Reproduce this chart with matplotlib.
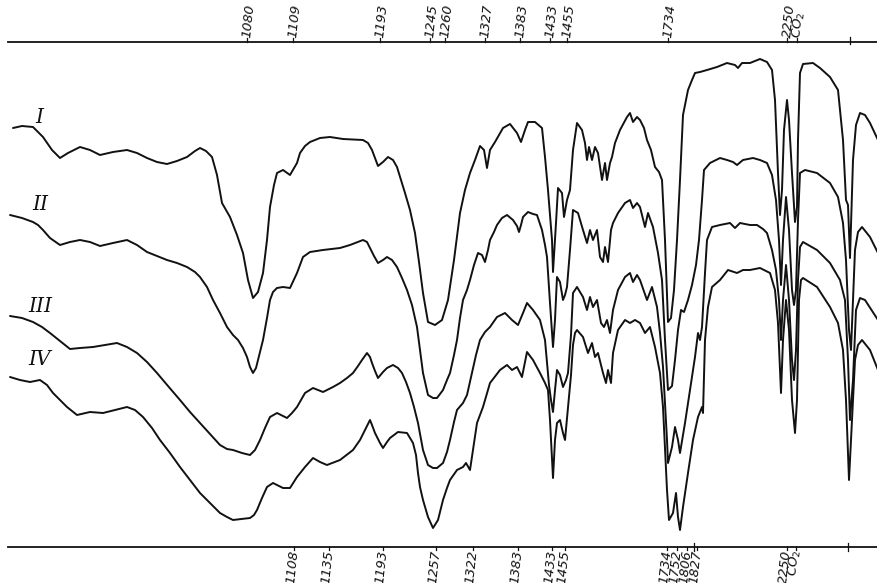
import numpy as np
import matplotlib.pyplot as plt

# chart position (x) and pen deflection measured down from the top rule (y)
trace_I = np.array([
    (13, 128), (22, 126), (33, 127), (43, 137), (52, 150), (60, 158), (68, 153),
    (80, 147), (90, 150), (100, 155), (113, 152), (127, 150), (137, 153),
    (147, 158), (157, 162), (167, 164), (177, 161), (187, 157), (195, 151),
    (200, 148), (206, 151), (212, 157), (217, 175), (222, 203), (230, 217),
    (237, 235), (243, 253), (248, 280), (253, 298), (258, 292), (263, 273),
    (267, 240), (270, 207), (274, 185), (277, 173), (283, 170), (290, 175),
    (297, 163), (300, 153), (305, 146), (310, 142), (320, 138), (330, 137),
    (343, 139), (363, 140), (368, 143), (372, 150), (378, 166), (383, 162),
    (388, 157), (393, 160), (397, 167), (405, 193), (410, 210), (415, 233),
    (419, 262), (423, 293), (428, 322), (435, 325), (442, 320), (448, 300),
    (454, 260), (460, 213), (465, 190), (470, 173), (475, 160), (480, 146),
    (484, 150), (487, 168), (490, 150), (495, 142), (503, 128), (510, 124),
    (517, 133), (521, 142), (525, 130), (528, 122), (535, 122), (542, 128),
    (545, 157), (548, 190), (552, 240), (553, 272), (556, 223), (558, 188),
    (562, 193), (564, 217), (567, 200), (570, 190), (573, 150), (577, 123),
    (582, 130), (585, 143), (587, 160), (589, 147), (592, 160), (595, 147),
    (598, 153), (602, 180), (605, 163), (607, 180), (610, 163), (612, 157),
    (615, 143), (620, 130), (627, 117), (630, 113), (633, 122), (637, 117),
    (640, 120), (644, 128), (647, 140), (651, 150), (655, 167), (659, 172),
    (662, 180), (665, 240), (668, 322), (671, 318), (674, 290), (677, 240),
    (680, 180), (683, 115), (688, 90), (692, 80), (695, 73), (700, 72),
    (707, 70), (717, 67), (727, 63), (735, 65), (738, 68), (742, 63),
    (750, 63), (760, 59), (767, 62), (772, 70), (775, 100), (778, 173),
    (780, 215), (782, 190), (784, 130), (787, 100), (789, 120), (792, 173),
    (795, 222), (797, 207), (798, 140), (800, 73), (803, 64), (813, 63),
    (820, 68), (830, 77), (838, 90), (843, 140), (846, 200), (848, 205),
    (850, 258), (853, 160), (856, 125), (860, 113), (865, 115), (870, 123),
    (878, 140),
])

trace_II = np.array([
    (10, 215), (22, 218), (33, 222), (38, 225), (43, 230), (50, 238), (60, 245),
    (70, 242), (80, 240), (90, 242), (100, 246), (113, 243), (127, 240),
    (137, 245), (147, 252), (157, 256), (167, 260), (177, 263), (187, 267),
    (195, 272), (200, 277), (207, 287), (213, 300), (220, 313), (227, 327),
    (233, 335), (238, 340), (243, 348), (247, 357), (250, 367), (253, 373),
    (256, 368), (260, 352), (263, 340), (267, 318), (270, 300), (273, 292),
    (277, 288), (283, 287), (290, 288), (297, 273), (303, 257), (310, 252),
    (323, 250), (340, 248), (350, 245), (363, 240), (367, 242), (370, 248),
    (374, 256), (378, 263), (383, 260), (387, 257), (392, 260), (397, 267),
    (402, 278), (407, 290), (412, 305), (417, 327), (420, 350), (423, 373),
    (428, 395), (433, 398), (437, 398), (443, 390), (447, 380), (450, 373),
    (454, 355), (457, 340), (460, 318), (463, 300), (467, 290), (470, 280),
    (474, 265), (478, 253), (482, 255), (485, 262), (488, 250), (490, 240),
    (494, 232), (497, 225), (502, 218), (507, 215), (513, 220), (517, 226),
    (519, 232), (521, 225), (523, 217), (528, 212), (533, 214), (537, 215),
    (542, 230), (545, 245), (547, 257), (550, 303), (553, 347), (555, 320),
    (557, 277), (560, 282), (563, 300), (565, 295), (567, 287), (570, 250),
    (573, 210), (578, 213), (583, 230), (587, 243), (590, 230), (593, 240),
    (597, 230), (600, 257), (603, 262), (605, 247), (608, 262), (611, 230),
    (613, 223), (618, 213), (625, 203), (630, 200), (633, 208), (637, 203),
    (640, 207), (645, 227), (648, 213), (653, 227), (658, 253), (662, 280),
    (665, 340), (668, 390), (672, 386), (675, 360), (678, 330), (681, 310),
    (684, 312), (688, 300), (692, 285), (696, 265), (699, 240), (702, 200),
    (704, 170), (710, 163), (720, 158), (727, 160), (733, 162), (737, 165),
    (743, 160), (753, 158), (760, 160), (767, 163), (772, 175), (776, 200),
    (779, 240), (781, 285), (783, 240), (786, 197), (789, 230), (792, 290),
    (794, 305), (796, 290), (798, 220), (800, 173), (805, 170), (817, 173),
    (830, 183), (838, 197), (843, 223), (846, 260), (849, 330), (851, 350),
    (853, 300), (855, 250), (858, 232), (862, 227), (870, 237), (878, 253),
])

trace_III = np.array([
    (10, 316), (22, 318), (33, 322), (42, 327), (50, 333), (60, 341), (70, 349),
    (80, 348), (93, 347), (105, 345), (117, 343), (127, 347), (137, 353),
    (147, 362), (157, 373), (168, 386), (180, 400), (190, 412), (200, 423),
    (210, 434), (220, 445), (227, 449), (233, 450), (242, 453), (250, 455),
    (255, 450), (260, 440), (265, 428), (270, 417), (277, 413), (283, 416),
    (287, 418), (292, 413), (297, 407), (305, 393), (313, 388), (323, 392),
    (333, 387), (340, 383), (347, 378), (353, 373), (358, 366), (362, 360),
    (367, 353), (370, 357), (372, 363), (375, 371), (378, 378), (383, 372),
    (387, 368), (393, 365), (398, 368), (402, 373), (406, 382), (410, 393),
    (414, 407), (418, 423), (423, 450), (428, 465), (433, 468), (437, 468),
    (443, 463), (447, 452), (450, 440), (454, 422), (457, 410), (463, 403),
    (467, 395), (472, 373), (476, 355), (480, 340), (485, 332), (490, 327),
    (497, 317), (505, 313), (512, 320), (518, 325), (523, 313), (527, 303),
    (533, 310), (540, 320), (545, 340), (547, 363), (549, 385), (551, 400),
    (553, 412), (555, 390), (557, 370), (560, 375), (563, 387), (566, 380),
    (568, 373), (571, 335), (573, 293), (577, 287), (583, 297), (587, 310),
    (590, 297), (593, 307), (597, 300), (601, 323), (604, 327), (607, 320),
    (610, 333), (613, 310), (618, 290), (625, 277), (630, 273), (633, 282),
    (637, 275), (640, 280), (647, 300), (652, 287), (657, 307), (660, 333),
    (663, 367), (667, 440), (668, 463), (672, 447), (675, 427), (678, 440),
    (680, 453), (685, 423), (690, 390), (695, 357), (698, 333), (700, 340),
    (702, 327), (705, 273), (707, 240), (712, 227), (720, 225), (730, 223),
    (735, 228), (740, 223), (750, 225), (757, 225), (763, 229), (767, 233),
    (772, 250), (776, 270), (779, 300), (781, 340), (783, 300), (786, 265),
    (789, 300), (792, 360), (794, 380), (796, 350), (798, 280), (800, 247),
    (803, 242), (817, 250), (830, 263), (840, 280), (845, 300), (848, 360),
    (850, 420), (853, 380), (856, 310), (860, 298), (865, 300), (878, 320),
])

trace_IV = np.array([
    (10, 377), (20, 380), (30, 382), (40, 380), (47, 385), (53, 393), (60, 400),
    (67, 407), (77, 415), (90, 412), (103, 413), (115, 410), (127, 407),
    (135, 410), (143, 417), (152, 428), (160, 440), (170, 453), (180, 467),
    (190, 480), (200, 493), (210, 503), (220, 513), (227, 517), (233, 520),
    (242, 519), (250, 518), (254, 515), (257, 510), (262, 498), (267, 487),
    (273, 483), (283, 488), (290, 488), (297, 477), (305, 467), (313, 458),
    (320, 462), (327, 465), (340, 460), (353, 450), (360, 440), (365, 430),
    (370, 420), (372, 425), (375, 433), (380, 443), (383, 448), (387, 442),
    (390, 438), (398, 432), (407, 433), (413, 443), (416, 455), (418, 473),
    (420, 487), (423, 500), (428, 517), (433, 528), (438, 520), (443, 500),
    (447, 488), (450, 480), (457, 470), (463, 467), (466, 463), (470, 470),
    (473, 450), (477, 423), (483, 407), (490, 383), (500, 370), (507, 365),
    (512, 370), (517, 367), (522, 377), (527, 352), (533, 360), (540, 373),
    (545, 383), (548, 390), (550, 420), (552, 460), (553, 478), (555, 440),
    (557, 423), (560, 420), (563, 433), (565, 440), (568, 407), (571, 375),
    (573, 345), (575, 333), (577, 330), (583, 337), (588, 353), (592, 343),
    (595, 357), (598, 353), (603, 373), (606, 383), (608, 370), (611, 383),
    (613, 353), (618, 330), (625, 320), (630, 323), (635, 320), (640, 323),
    (645, 333), (650, 327), (655, 347), (660, 373), (663, 407), (667, 490),
    (669, 520), (673, 513), (676, 493), (678, 517), (680, 530), (683, 507),
    (688, 473), (693, 440), (698, 417), (702, 407), (703, 413), (705, 340),
    (708, 307), (712, 287), (720, 280), (728, 270), (737, 273), (743, 270),
    (750, 270), (760, 268), (770, 273), (775, 290), (778, 323), (781, 393),
    (783, 340), (786, 300), (789, 330), (792, 400), (795, 433), (797, 400),
    (799, 300), (801, 280), (803, 278), (817, 287), (830, 307), (838, 323),
    (843, 350), (846, 400), (849, 480), (852, 420), (855, 360), (858, 345),
    (862, 340), (870, 350), (878, 370),
])

traces = [trace_I, trace_II, trace_III, trace_IV]
trace_names = ["I", "II", "III", "IV"]
name_pos = [(39, 127), (40, 214), (40, 316), (40, 369)]

# band marks along the upper and lower rules
top_pos = [247, 293, 380, 430, 445, 485, 520, 550, 567, 668, 787, 797]
top_text = ["1080", "1109", "1193", "1245", "1260", "1327", "1383",
            "1433", "1455", "1734", "2250", "CO$_2$"]
bottom_pos = [294, 329, 383, 436, 473, 518, 552, 565, 667, 677, 687, 697,
              787, 796]
bottom_text = ["1108", "1135", "1193", "1257", "1322", "1383", "1433",
               "1455", "1734", "1752", "1806", "1827", "2250", "CO$_2$"]

top_rule = 42
bottom_rule = 547

fig = plt.figure(figsize=(8.78, 5.83), dpi=100)
ax = fig.add_axes([0, 0, 1, 1])
ax.set_xlim(0, 878)
ax.set_ylim(583, 0)
ax.axis("off")

ink = "#111111"
ax.plot([8, 878], [top_rule, top_rule], color=ink, lw=1.3)
ax.plot([8, 878], [bottom_rule, bottom_rule], color=ink, lw=1.3)

for tr in traces:
    ax.plot(tr[:, 0], tr[:, 1], color=ink, lw=1.4,
            solid_joinstyle="round", solid_capstyle="round")

for name, (x, y) in zip(trace_names, name_pos):
    ax.text(x, y, name, fontsize=14.5, family="DejaVu Serif", style="italic",
            ha="center", va="bottom", color=ink)

lab_font = dict(family=["Liberation Sans Narrow", "DejaVu Sans"],
                style="italic", fontsize=9.5, color=ink)

for x, t in zip(top_pos, top_text):
    ax.plot([x, x], [top_rule - 4, top_rule], color=ink, lw=0.9)
    ax.text(x, top_rule - 4, t, rotation=84, rotation_mode="anchor",
            ha="left", va="center", **lab_font)

for x, t in zip(bottom_pos, bottom_text):
    ax.plot([x, x], [bottom_rule, bottom_rule + 3], color=ink, lw=0.9)
    ax.text(x, bottom_rule + 3, t, rotation=84, rotation_mode="anchor",
            ha="right", va="center", **lab_font)

# unlabelled marks on both rules
ax.plot([850, 850], [top_rule - 5, top_rule + 2], color=ink, lw=0.9)
ax.plot([848, 848], [bottom_rule - 4, bottom_rule + 4], color=ink, lw=0.9)
ax.plot([694, 694], [bottom_rule - 4, bottom_rule + 4], color=ink, lw=0.9)

fig.savefig("out.png", dpi=100, facecolor="white")
